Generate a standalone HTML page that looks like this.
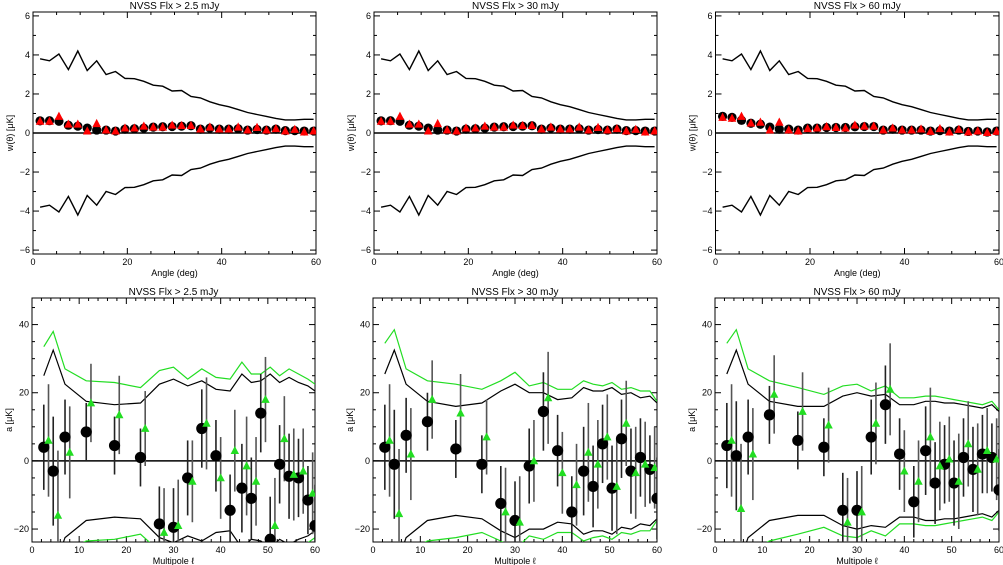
<!DOCTYPE html>
<html><head><meta charset="utf-8"><style>
html,body{margin:0;padding:0;background:#fff;}
svg{display:block;font-family:"Liberation Sans",sans-serif;}
</style></head><body>
<svg id="c" width="1003" height="565" viewBox="0 0 1003 565"></svg>
<script>
// ---- top row data (angle correlation) ----
const topAngles=[1.5,3.5,5.5,7.5,9.5,11.5,13.5,15.5,17.5,19.5,21.5,23.5,25.5,27.5,29.5,31.5,33.5,35.5,37.5,39.5,41.5,43.5,45.5,47.5,49.5,51.5,53.5,55.5,57.5,59.5];
const topEnvelope=[3.8,3.7,4.05,3.25,4.2,3.2,3.7,3.0,3.15,2.8,2.78,2.65,2.45,2.4,2.15,2.18,1.87,1.8,1.6,1.45,1.35,1.2,1.05,0.95,0.85,0.75,0.67,0.67,0.7,0.7];
const topCircles1=[0.62,0.63,0.6,0.4,0.35,0.25,0.15,0.15,0.1,0.2,0.22,0.25,0.3,0.32,0.33,0.35,0.37,0.2,0.25,0.2,0.2,0.22,0.15,0.18,0.15,0.2,0.12,0.12,0.1,0.1];
const topTriangles1=[0.6,0.6,0.85,0.45,0.45,0.1,0.48,0.15,0.1,0.25,0.25,0.35,0.3,0.3,0.4,0.38,0.38,0.2,0.3,0.2,0.2,0.3,0.15,0.28,0.15,0.22,0.1,0.18,0.05,0.1];
const topCircles3=[0.85,0.8,0.65,0.5,0.45,0.3,0.2,0.2,0.15,0.25,0.25,0.28,0.28,0.28,0.32,0.33,0.33,0.15,0.2,0.15,0.15,0.15,0.1,0.12,0.1,0.15,0.08,0.1,0.05,0.1];
const topTriangles3=[0.8,0.75,0.85,0.5,0.55,0.15,0.55,0.15,0.1,0.22,0.25,0.32,0.28,0.25,0.4,0.35,0.35,0.15,0.25,0.15,0.15,0.2,0.08,0.22,0.05,0.18,0.05,0.1,0.02,0.08];
// ---- bottom row data (multipoles) ----
const ellBlack=[2.5,4.5,7,11.5,17.5,23,27,30,33,36,39,42,44.5,46.5,48.5,50.5,52.5,54.5,56.5,58.5,60];
const ellGreen=[3.5,5.5,8,12.5,18.5,24,28,31,34,37,40,43,45.5,47.5,49.5,51.5,53.5,55.5,57.5,59.5];
const black1=[4,-3,7,8.5,4.5,1,-18.5,-19.5,-5,9.5,1.5,-14.5,-8,-11,14,-23,-1,-4.5,-5,-11.5,-19];
const green1=[6,-16,2.5,17,13.5,9.5,-21,-19,-6,11,-5,3,-1.5,-6,18,-19,6.5,-4,-3,-9.5];
const envB1=[25,32.5,22.5,17.5,16.5,17,22.5,24,22,23.5,21,20.5,25.5,23,23.5,25.5,23,24.5,23,22,20.5];
const envG1=[33.5,38,27,23.5,23,21.5,26.5,27.5,24,27,24.5,24,29,25.5,25.5,27.5,25,27,25.5,24,22.5];
const black2=[4,-1,7.5,11.5,3.5,-1,-12.5,-17.5,-1.5,14.5,3,-15,-3,-7.5,5,-8,6.5,-3,1,-2.5,-11];
const green2=[6,-15.5,2,18,14,7,-15,-18,0,18.5,-3.5,-7,2.5,-1,7,-7.5,11,-3.5,-1,-2];
const envB2=[25.5,32.5,22.5,17.5,16,17,20.5,22.5,20,20,18,18.5,21.5,20.5,20.5,21.5,19.5,20,18.5,19,17];
const envG2=[34.5,38.5,27,23.5,22.5,21,23.5,26,22,23,21,21,23.5,22.5,22,23,21,21.5,20.5,20.5,17.5];
const black3=[4.5,1.5,7,13.5,6,4,-14.5,-14.5,7,16.5,2,-12,3,-6.5,-1,-6.5,1,-2.5,2,1,-8.5];
const green3=[6,-14,2,19.5,14.5,10.5,-18,-15,11,21,-3,-6,7,-1.5,0.5,-6,5,-2.5,3,0.5];
const envB3=[25.5,32.5,22.5,17.5,16,16,19,20,19,19.5,16.5,16.5,17.5,17.5,17,17,16.5,16,15.5,16.5,14.5];
const envG3=[34.5,38.5,27,23.5,21.5,19.5,22,22.5,20.5,22,18.5,18.5,19,19,18.5,18,17.5,17,16.5,17.5,15];
const errBlack=[12.5,16,11,8.5,8.5,8.5,11,11.5,11,11.5,10.5,10.5,13,12,11.5,12.5,11.5,12.5,11.5,10,12];
const errGreen=[16.5,19,13.5,11.5,11.5,11,13,13.5,12,13.5,12,12,14.5,13,12.5,14,12.5,13.5,12.5,12];
const titles=["NVSS Flx > 2.5 mJy","NVSS Flx > 30 mJy","NVSS Flx > 60 mJy"];

const svg=document.getElementById('c');
const NS='http://www.w3.org/2000/svg';
function mk(tag,attrs,parent){const e=document.createElementNS(NS,tag);for(const k in attrs)e.setAttribute(k,attrs[k]);(parent||svg).appendChild(e);return e;}

function panel(px0,px1,py0,py1,xmin,xmax,ymin,ymax,xmaj,xmin_,ymaj,ymin_,title,xlab,ylab,name){
  const g=mk('g',{});
  
  
  const X=v=>px0+(v-xmin)/(xmax-xmin)*(px1-px0);
  const Y=v=>py1-(v-ymin)/(ymax-ymin)*(py1-py0);
  const box=mk('rect',{x:px0,y:py0,width:px1-px0,height:py1-py0,fill:'none',stroke:'#000','stroke-width':1},g);
  
  
  for(let v=xmin;v<=xmax+1e-9;v+=xmin_){
    const maj=Math.abs(v/xmaj-Math.round(v/xmaj))<1e-6; const L=maj?6:3;
    mk('line',{x1:X(v),x2:X(v),y1:py1,y2:py1-L,stroke:'#000'},g);
    mk('line',{x1:X(v),x2:X(v),y1:py0,y2:py0+L,stroke:'#000'},g);
    if(maj){const t=mk('text',{x:X(v),y:py1+11,'font-size':9,'text-anchor':'middle'},g);t.textContent=Math.round(v);
      }
  }
  const yStart=Math.ceil(ymin/ymin_)*ymin_;
  for(let v=yStart;v<=ymax+1e-9;v+=ymin_){
    const maj=Math.abs(v/ymaj-Math.round(v/ymaj))<1e-6; const L=maj?6:3;
    mk('line',{x1:px0,x2:px0+L,y1:Y(v),y2:Y(v),stroke:'#000'},g);
    mk('line',{x1:px1,x2:px1-L,y1:Y(v),y2:Y(v),stroke:'#000'},g);
    if(maj){const t=mk('text',{x:px0-3,y:Y(v)+3,'font-size':9,'text-anchor':'end'},g);t.textContent=(v<0?'\u2212':'')+Math.abs(Math.round(v));
      }
  }
  const tt=mk('text',{x:(px0+px1)/2,y:py0-3,'font-size':10,'text-anchor':'middle'},g);tt.textContent=title;
  
  const xl=mk('text',{x:(px0+px1)/2,y:py1+22,'font-size':9,'text-anchor':'middle'},g);xl.textContent=xlab;
  
  const yl=mk('text',{x:0,y:0,'font-size':9,'text-anchor':'middle',transform:`translate(${px0-20},${(py0+py1)/2}) rotate(-90)`},g);yl.textContent=ylab;
  
  const cp='clip'+name; const cl=mk('clipPath',{id:cp},g); mk('rect',{x:px0,y:py0,width:px1-px0,height:py1-py0},cl);
  const inner=mk('g',{'clip-path':`url(#${cp})`},g);
  mk('line',{x1:px0,x2:px1,y1:Y(0),y2:Y(0),stroke:'#000','stroke-width':1.5},inner);
  return {X,Y,g:inner};
}
function line(p,xs,ys,sign,color,w,nm){
  const d=xs.map((x,i)=>(i?'L':'M')+p.X(x).toFixed(1)+' '+p.Y(sign*ys[i]).toFixed(1)).join(' ');
  const e=mk('path',{d,fill:'none',stroke:color,'stroke-width':w},p.g);
  
  
}
function tri(p,x,y,s,color,nm){
  const cx=p.X(x),cy=p.Y(y);
  const e=mk('polygon',{points:`${cx-s},${cy+s*0.8} ${cx+s},${cy+s*0.8} ${cx},${cy-s*1.1}`,fill:color},p.g);
  
  
}

const topX=[[33,316],[374,657],[715.5,999]];
const botX=[[32,315],[373,657],[715,999]];
const topCirc=[topCircles1,topCircles1,topCircles3];
const topTri=[topTriangles1,topTriangles1,topTriangles3];
const blacks=[black1,black2,black3],greens=[green1,green2,green3];
const envBs=[envB1,envB2,envB3],envGs=[envG1,envG2,envG3];

for(let k=0;k<3;k++){
  const p=panel(topX[k][0],topX[k][1],12,254,0,60,-6.2,6.2,20,5,2,1,titles[k],'Angle (deg)','w(\u03b8) [\u03bcK]','top-panel-'+(k+1));
  line(p,topAngles,topEnvelope,1,'#000',1.4,'upper-envelope');
  line(p,topAngles,topEnvelope,-1,'#000',1.4,'lower-envelope');
  topAngles.forEach((a,i)=>{
    const c=mk('circle',{cx:p.X(a),cy:p.Y(topCirc[k][i]),r:4.6,fill:'#000'},p.g);
    
    
    tri(p,a,topTri[k][i],4.3,'#ff0000','red-triangle');
  });

  const q=panel(botX[k][0],botX[k][1],298,542,0,60,-23.8,47.8,10,2,20,5,titles[k],'Multipole \u2113','a [\u03bcK]','bottom-panel-'+(k+1));
  line(q,ellBlack,envGs[k],1,'#22dd22',1.2,'green-upper-envelope');
  line(q,ellBlack,envGs[k],-1,'#22dd22',1.2,'green-lower-envelope');
  line(q,ellBlack,envBs[k],1,'#000',1.2,'black-upper-envelope');
  line(q,ellBlack,envBs[k],-1,'#000',1.2,'black-lower-envelope');
  ellBlack.forEach((l,i)=>{
    const v=blacks[k][i],e=errBlack[i];
    const eb=mk('line',{x1:q.X(l),x2:q.X(l),y1:q.Y(v-e),y2:q.Y(v+e),stroke:'#222','stroke-width':1.6},q.g);
    
    
  });
  ellGreen.forEach((l,i)=>{
    const v=greens[k][i],e=errGreen[i];
    const eb=mk('line',{x1:q.X(l),x2:q.X(l),y1:q.Y(v-e),y2:q.Y(v+e),stroke:'#555','stroke-width':1.6},q.g);
    
    
  });
  ellBlack.forEach((l,i)=>{
    const c=mk('circle',{cx:q.X(l),cy:q.Y(blacks[k][i]),r:5.6,fill:'#000'},q.g);
    
    
  });
  ellGreen.forEach((l,i)=>{ tri(q,l,greens[k][i],4.2,'#22dd22','green-triangle'); });
}
</script>
</body></html>
